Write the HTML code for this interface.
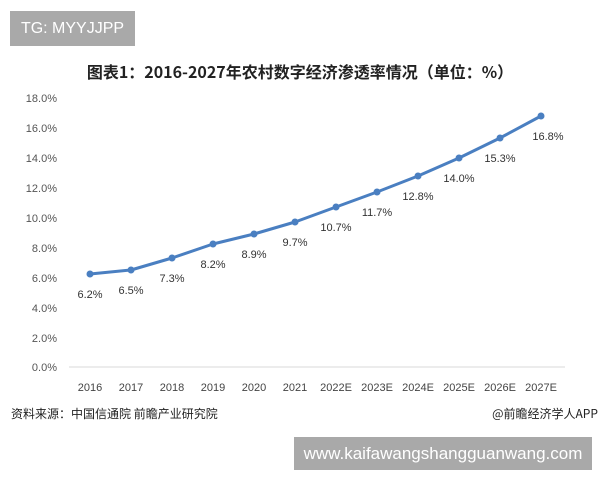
<!DOCTYPE html>
<html><head><meta charset="utf-8"><style>
body{margin:0;width:600px;height:480px;background:#fff;overflow:hidden;position:relative;font-family:"Liberation Sans","Noto Sans CJK SC",sans-serif}
.box{position:absolute;background:#a9a9a9;color:#fff;white-space:nowrap;overflow:hidden}
</style></head><body>
<div class="box" style="left:10px;top:11px;width:125px;height:35px;font-size:16px;line-height:35px;text-align:center">TG: MYYJJPP</div>
<div class="box" style="left:294px;top:437px;width:298px;height:33px;font-size:17px;line-height:33px;text-align:center">www.kaifawangshangguanwang.com</div>
<svg width="600" height="480" style="position:absolute;left:0;top:0" font-family="Liberation Sans,Noto Sans CJK SC,sans-serif">
<text x="300" y="78" text-anchor="middle" font-size="16" font-weight="bold" fill="#222" font-family="Noto Sans CJK SC,sans-serif">图表1：2016-2027年农村数字经济渗透率情况（单位：%）</text>
<g font-size="11" fill="#555" text-anchor="end">
<text x="57" y="102">18.0%</text><text x="57" y="132">16.0%</text><text x="57" y="162">14.0%</text><text x="57" y="192">12.0%</text><text x="57" y="222">10.0%</text><text x="57" y="252">8.0%</text><text x="57" y="282">6.0%</text><text x="57" y="312">4.0%</text><text x="57" y="342">2.0%</text><text x="57" y="371">0.0%</text>
</g>
<line x1="69" y1="367" x2="565" y2="367" stroke="#d9d9d9" stroke-width="1"/>
<g font-size="11" fill="#444" text-anchor="middle">
<text x="90" y="391">2016</text><text x="131" y="391">2017</text><text x="172" y="391">2018</text><text x="213" y="391">2019</text><text x="254" y="391">2020</text><text x="295" y="391">2021</text><text x="336" y="391">2022E</text><text x="377" y="391">2023E</text><text x="418" y="391">2024E</text><text x="459" y="391">2025E</text><text x="500" y="391">2026E</text><text x="541" y="391">2027E</text>
</g>
<polyline fill="none" stroke="#4a7fc1" stroke-width="3" stroke-linejoin="round" points="90,274 131,270 172,258 213,244 254,234 295,222 336,207 377,192 418,176 459,158 500,138 541,116"/>
<g fill="#4a7fc1">
<circle cx="90" cy="274" r="3.5"/><circle cx="131" cy="270" r="3.5"/><circle cx="172" cy="258" r="3.5"/><circle cx="213" cy="244" r="3.5"/><circle cx="254" cy="234" r="3.5"/><circle cx="295" cy="222" r="3.5"/><circle cx="336" cy="207" r="3.5"/><circle cx="377" cy="192" r="3.5"/><circle cx="418" cy="176" r="3.5"/><circle cx="459" cy="158" r="3.5"/><circle cx="500" cy="138" r="3.5"/><circle cx="541" cy="116" r="3.5"/>
</g>
<g font-size="11" fill="#333" text-anchor="middle">
<text x="90" y="298">6.2%</text><text x="131" y="294">6.5%</text><text x="172" y="282">7.3%</text><text x="213" y="268">8.2%</text><text x="254" y="258">8.9%</text><text x="295" y="246">9.7%</text><text x="336" y="231">10.7%</text><text x="377" y="216">11.7%</text><text x="418" y="200">12.8%</text><text x="459" y="182">14.0%</text><text x="500" y="162">15.3%</text><text x="548" y="140">16.8%</text>
</g>
<text x="11" y="418" font-size="12" fill="#222" font-family="Noto Sans CJK SC,sans-serif">资料来源：中国信通院 前瞻产业研究院</text>
<text x="598" y="418" font-size="12" fill="#222" text-anchor="end" font-family="Noto Sans CJK SC,sans-serif">@前瞻经济学人APP</text>
</svg>
</body></html>
